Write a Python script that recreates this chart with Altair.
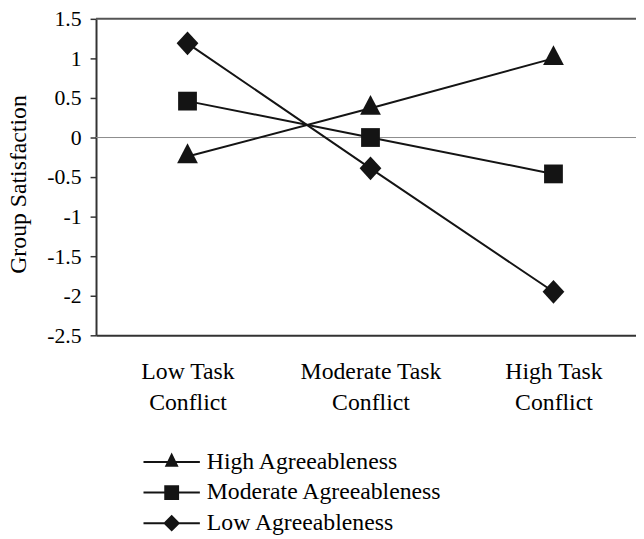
import altair as alt
import pandas as pd

# ---- data ----
conditions = ["Low Task Conflict", "Moderate Task Conflict", "High Task Conflict"]
condition_labels = [["Low Task", "Conflict"], ["Moderate Task", "Conflict"], ["High Task", "Conflict"]]
series = ["High Agreeableness", "Moderate Agreeableness", "Low Agreeableness"]
high_agree = [-0.24, 0.37, 1.0]
moderate_agree = [0.46, 0.0, -0.46]
low_agree = [1.19, -0.39, -1.95]
y_ticks = [-2.5, -2, -1.5, -1, -0.5, 0, 0.5, 1, 1.5]
zero_ref = [0.0]
top_ref = [1.5]

rows = []
for s, vals in zip(series, [high_agree, moderate_agree, low_agree]):
    for i, v in enumerate(vals):
        rows.append({"cond": i, "condition": conditions[i], "series": s, "value": v})
df = pd.DataFrame(rows)
zero_df = pd.DataFrame({"value": zero_ref})
top_df = pd.DataFrame({"value": top_ref})

FONT = "Liberation Serif"
INK = "#141414"

# marker shapes (plot) and line+marker shapes (legend), all filled paths
plot_shapes = [
    "M0,-1.33L1.05,0.67L-1.05,0.67Z",
    "M-0.95,-0.95H0.95V0.95H-0.95Z",
    "M0,-1.2L1.1,0L0,1.2L-1.1,0Z",
]
LINE = "M-2.85,-0.1H2.85V0.1H-2.85Z"
legend_shapes = [
    LINE + "M0,-0.95L0.7,0.5L-0.7,0.5Z",
    LINE + "M-0.75,-0.75H0.75V0.75H-0.75Z",
    LINE + "M0,-0.85L0.85,0L0,0.85L-0.85,0Z",
]

label_expr = "[" + ",".join(
    "[" + ",".join("'%s'" % p for p in lab) + "]" for lab in condition_labels
) + "][datum.value]"

x_axis = alt.Axis(
    values=[0, 1, 2],
    labelExpr=label_expr,
    ticks=False,
    tickSize=0,
    grid=False,
    title=None,
    labelFont=FONT,
    labelFontSize=24,
    labelColor="black",
    labelLineHeight=31,
    labelPadding=25,
    labelOverlap=False,
    domainColor="#333333",
    domainWidth=2,
)
x_enc = alt.X(
    "cond:Q",
    scale=alt.Scale(domain=[-0.5, 2.451], nice=False, zero=False),
    axis=x_axis,
)
y_axis = alt.Axis(
    values=y_ticks,
    labelExpr="'' + datum.value",
    labelOverlap=False,
    labelSeparation=0,
    labelBound=False,
    grid=False,
    tickSize=6,
    tickWidth=1.5,
    tickColor="#333333",
    domainColor="#333333",
    domainWidth=2,
    labelFont=FONT,
    labelFontSize=22,
    labelColor="black",
    labelPadding=9,
    title="Group Satisfaction",
    titleFont=FONT,
    titleFontSize=24,
    titleFontWeight="normal",
    titleColor="black",
    titleAngle=270,
    titleX=-71,
    titleY=167,
    titleAlign="center",
    titleBaseline="alphabetic",
)
y_enc = alt.Y(
    "value:Q",
    scale=alt.Scale(domain=[-2.5, 1.5], nice=False, zero=False),
    axis=y_axis,
)

base = alt.Chart(df)

zero_line = alt.Chart(zero_df).mark_rule(color="#8c8c8c", strokeWidth=1).encode(y=y_enc)
top_line = alt.Chart(top_df).mark_rule(color="#555555", strokeWidth=2).encode(y=y_enc)

lines = base.mark_line(color=INK, strokeWidth=2).encode(
    x=x_enc, y=y_enc, detail="series:N"
)

points = base.mark_point(filled=True, fill=INK, strokeWidth=0, opacity=1, size=400).encode(
    x=x_enc,
    y=y_enc,
    shape=alt.Shape("series:N", scale=alt.Scale(domain=series, range=plot_shapes), legend=None),
)

legend_layer = base.transform_filter("false").mark_point(
    filled=True, color=INK, strokeWidth=0, opacity=1, size=400
).encode(
    x=x_enc,
    y=y_enc,
    shape=alt.Shape(
        "series:N",
        scale=alt.Scale(domain=series, range=legend_shapes),
        legend=alt.Legend(
            title=None,
            orient="none",
            legendX=64.5,
            legendY=436,
            direction="vertical",
            labelFont=FONT,
            labelFontSize=24,
            labelColor="black",
            labelOffset=23.5,
            labelLimit=0,
            symbolSize=400,
            symbolStrokeWidth=0,
            symbolFillColor=INK,
            symbolOpacity=1,
            rowPadding=7,
            padding=0,
        ),
    ),
)

chart = (
    alt.layer(zero_line, top_line, lines, points, legend_layer)
    .resolve_scale(shape="independent")
    .properties(
        width=546,
        height=320,
        padding={"left": 89, "top": 8, "right": 0, "bottom": 203},
        autosize=alt.AutoSizeParams(type="none"),
        background="white",
    )
    .configure_view(stroke=None)
)

chart.save("out.html", embed_options={"renderer": "svg", "actions": False})
